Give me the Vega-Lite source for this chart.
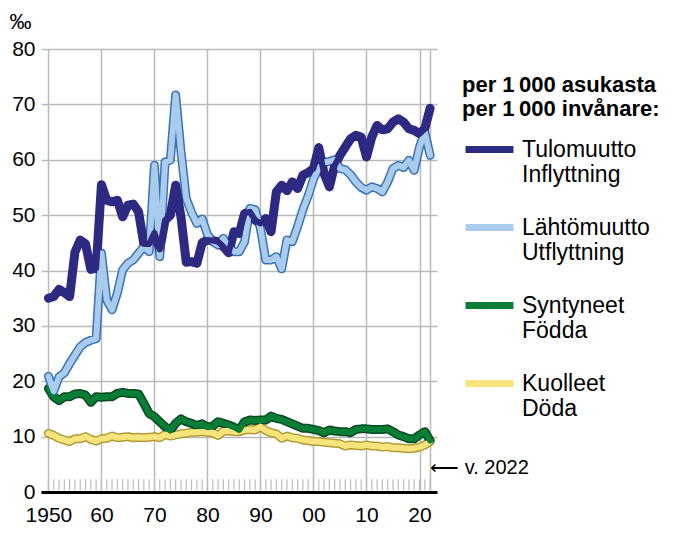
{
  "$schema": "https://vega.github.io/schema/vega-lite/v6.json",
  "autosize": {"type": "none"},
  "padding": {"left": 41, "top": 49, "right": 236, "bottom": 46},
  "width": 396,
  "height": 443,
  "background": "white",
  "config": {
    "font": "Liberation Sans",
    "view": {"stroke": null},
    "axis": {"labelColor": "black", "gridColor": "#bababa", "gridWidth": 1.5}
  },
  "data": {"values": [
    {"year":1950,"T":35.0,"L":20.9,"S":18.7,"K":10.6},
    {"year":1951,"T":35.3,"L":18.2,"S":17.2,"K":10.2},
    {"year":1952,"T":36.6,"L":20.8,"S":16.5,"K":9.7},
    {"year":1953,"T":36.0,"L":21.5,"S":17.2,"K":9.4},
    {"year":1954,"T":35.3,"L":23.2,"S":17.2,"K":9.1},
    {"year":1955,"T":43.3,"L":24.7,"S":17.7,"K":9.6},
    {"year":1956,"T":45.5,"L":26.2,"S":17.8,"K":9.6},
    {"year":1957,"T":44.8,"L":27.0,"S":17.5,"K":10.0},
    {"year":1958,"T":40.2,"L":27.4,"S":16.2,"K":9.5},
    {"year":1959,"T":40.4,"L":27.7,"S":17.2,"K":9.2},
    {"year":1960,"T":55.5,"L":43.1,"S":17.1,"K":9.6},
    {"year":1961,"T":52.7,"L":34.7,"S":17.2,"K":9.7},
    {"year":1962,"T":52.4,"L":32.9,"S":17.2,"K":10.1},
    {"year":1963,"T":52.7,"L":35.9,"S":17.8,"K":9.8},
    {"year":1964,"T":49.7,"L":40.1,"S":18.0,"K":9.9},
    {"year":1965,"T":51.8,"L":41.3,"S":17.8,"K":10.0},
    {"year":1966,"T":52.0,"L":41.9,"S":17.8,"K":9.8},
    {"year":1967,"T":50.6,"L":43.1,"S":17.7,"K":9.9},
    {"year":1968,"T":44.8,"L":44.3,"S":16.0,"K":9.8},
    {"year":1969,"T":44.8,"L":43.4,"S":14.2,"K":9.9},
    {"year":1970,"T":46.8,"L":59.0,"S":13.6,"K":10.0},
    {"year":1971,"T":43.8,"L":42.5,"S":12.7,"K":9.8},
    {"year":1972,"T":49.1,"L":59.6,"S":11.8,"K":10.4},
    {"year":1973,"T":50.0,"L":59.9,"S":11.1,"K":10.1},
    {"year":1974,"T":55.4,"L":71.7,"S":12.4,"K":10.3},
    {"year":1975,"T":49.7,"L":61.5,"S":13.2,"K":10.5},
    {"year":1976,"T":41.5,"L":53.0,"S":12.7,"K":10.6},
    {"year":1977,"T":41.6,"L":50.5,"S":12.4,"K":10.8},
    {"year":1978,"T":41.3,"L":48.5,"S":12.0,"K":10.8},
    {"year":1979,"T":45.0,"L":49.3,"S":12.3,"K":10.9},
    {"year":1980,"T":45.5,"L":46.5,"S":11.7,"K":10.8},
    {"year":1981,"T":45.4,"L":45.2,"S":11.9,"K":10.7},
    {"year":1982,"T":45.2,"L":44.6,"S":12.7,"K":10.2},
    {"year":1983,"T":44.3,"L":45.8,"S":12.4,"K":11.0},
    {"year":1984,"T":43.2,"L":44.3,"S":12.1,"K":11.0},
    {"year":1985,"T":47.0,"L":43.4,"S":11.7,"K":10.9},
    {"year":1986,"T":46.7,"L":43.4,"S":11.2,"K":10.9},
    {"year":1987,"T":50.3,"L":45.2,"S":12.7,"K":11.2},
    {"year":1988,"T":50.6,"L":51.2,"S":13.0,"K":11.3},
    {"year":1989,"T":49.1,"L":51.0,"S":12.9,"K":11.2},
    {"year":1990,"T":48.5,"L":47.6,"S":13.0,"K":11.8},
    {"year":1991,"T":49.4,"L":41.9,"S":13.0,"K":11.1},
    {"year":1992,"T":47.0,"L":41.9,"S":13.7,"K":10.7},
    {"year":1993,"T":54.2,"L":42.5,"S":13.3,"K":10.5},
    {"year":1994,"T":55.4,"L":40.3,"S":13.1,"K":9.7},
    {"year":1995,"T":54.4,"L":45.5,"S":12.7,"K":10.1},
    {"year":1996,"T":56.0,"L":45.2,"S":12.3,"K":9.8},
    {"year":1997,"T":54.8,"L":47.9,"S":11.9,"K":9.7},
    {"year":1998,"T":57.2,"L":51.0,"S":11.5,"K":9.4},
    {"year":1999,"T":57.7,"L":53.5,"S":11.5,"K":9.3},
    {"year":2000,"T":58.4,"L":56.5,"S":11.3,"K":9.1},
    {"year":2001,"T":62.2,"L":58.5,"S":11.1,"K":9.1},
    {"year":2002,"T":57.5,"L":59.5,"S":10.7,"K":9.0},
    {"year":2003,"T":55.1,"L":59.7,"S":11.2,"K":8.9},
    {"year":2004,"T":59.0,"L":60.0,"S":11.0,"K":8.8},
    {"year":2005,"T":60.8,"L":58.4,"S":10.9,"K":8.7},
    {"year":2006,"T":62.3,"L":58.2,"S":10.9,"K":8.3},
    {"year":2007,"T":63.8,"L":57.3,"S":10.7,"K":8.5},
    {"year":2008,"T":64.4,"L":56.0,"S":11.3,"K":8.4},
    {"year":2009,"T":64.1,"L":55.0,"S":11.4,"K":8.3},
    {"year":2010,"T":60.5,"L":54.5,"S":11.4,"K":8.5},
    {"year":2011,"T":64.1,"L":55.1,"S":11.3,"K":8.3},
    {"year":2012,"T":66.2,"L":54.8,"S":11.3,"K":8.3},
    {"year":2013,"T":65.4,"L":54.2,"S":11.3,"K":8.1},
    {"year":2014,"T":65.6,"L":56.0,"S":11.4,"K":8.2},
    {"year":2015,"T":66.8,"L":58.4,"S":10.9,"K":8.0},
    {"year":2016,"T":67.4,"L":59.0,"S":10.3,"K":8.0},
    {"year":2017,"T":66.8,"L":58.6,"S":10.0,"K":7.9},
    {"year":2018,"T":65.6,"L":59.9,"S":9.6,"K":7.8},
    {"year":2019,"T":65.3,"L":58.1,"S":9.6,"K":7.9},
    {"year":2020,"T":64.7,"L":62.3,"S":10.3,"K":8.1},
    {"year":2021,"T":65.6,"L":65.0,"S":10.9,"K":8.5},
    {"year":2022,"T":69.3,"L":60.8,"S":9.3,"K":9.1}
  ]},
  "layer": [
    {
      "mark": {"type": "rule", "color": "#bdbdbd", "strokeWidth": 1.2},
      "encoding": {
        "x": {
          "field": "year", "type": "quantitative",
          "scale": {"domain": [1948.6, 2023.3], "nice": false, "zero": false},
          "axis": {
            "values": [1950, 1960, 1970, 1980, 1990, 2000, 2010, 2020, 2022],
            "labelExpr": "datum.value == 1950 ? '1950' : datum.value == 2022 ? '' : substring(toString(datum.value), 2, 4)",
            "grid": true, "ticks": false,
            "domainColor": "black", "domainWidth": 3,
            "labelFontSize": 21, "labelPadding": 12, "labelFlush": false,
            "title": null
          }
        },
        "y": {
          "datum": 0.3, "type": "quantitative",
          "scale": {"domain": [0, 80], "nice": false},
          "axis": {
            "values": [0, 10, 20, 30, 40, 50, 60, 70, 80],
            "grid": true, "domain": false, "ticks": false,
            "labelFontSize": 21, "labelPadding": 6,
            "title": "‰", "titleAngle": 0, "titleX": -32, "titleY": -21,
            "titleAlign": "left", "titleBaseline": "alphabetic",
            "titleFontSize": 22, "titleFontWeight": "normal", "titleColor": "black"
          }
        },
        "y2": {"datum": 2.3}
      }
    },
    {
      "transform": [{"fold": ["K", "S", "L", "T"], "as": ["series", "value"]}],
      "mark": {"type": "line", "strokeWidth": 9, "strokeJoin": "round", "strokeCap": "round"},
      "encoding": {
        "x": {"field": "year", "type": "quantitative"},
        "y": {"field": "value", "type": "quantitative"},
        "detail": {"field": "series", "type": "nominal"},
        "color": {
          "condition": [
            {"test": "datum.series == 'K'", "value": "#b09c35"},
            {"test": "datum.series == 'S'", "value": "#0a4a20"},
            {"test": "datum.series == 'L'", "value": "#3a74b2"}
          ],
          "value": "#2e2a82"
        }
      }
    },
    {
      "transform": [{"fold": ["K", "S", "L", "T"], "as": ["series", "value"]}],
      "mark": {"type": "line", "strokeWidth": 6, "strokeJoin": "round", "strokeCap": "round"},
      "encoding": {
        "x": {"field": "year", "type": "quantitative"},
        "y": {"field": "value", "type": "quantitative"},
        "color": {
          "field": "series", "type": "nominal",
          "scale": {"domain": ["T", "L", "S", "K"], "range": ["#2e2a82", "#a8cbee", "#0a7d36", "#f8e47c"]},
          "legend": {
            "orient": "none", "legendX": 421, "legendY": 26,
            "title": ["per 1\u2009000 asukasta", "per 1\u2009000 invånare:"],
            "titleFontSize": 22, "titleFontWeight": "bold", "titleColor": "black",
            "titleLineHeight": 24, "titlePadding": 1, "titleLimit": 400,
            "labelFontSize": 23, "labelLineHeight": 27, "labelColor": "black", "labelLimit": 300,
            "labelExpr": "datum.label == 'T' ? ['Tulomuutto', 'Inflyttning'] : datum.label == 'L' ? ['Lähtömuutto', 'Utflyttning'] : datum.label == 'S' ? ['Syntyneet', 'Födda'] : ['Kuolleet', 'Döda']",
            "symbolType": "stroke", "symbolSize": 2300, "symbolStrokeWidth": 7,
            "labelOffset": 5, "rowPadding": 13
          }
        }
      }
    },
    {
      "data": {"values": [{"label": "v. 2022"}]},
      "mark": {"type": "text", "align": "left", "baseline": "middle", "fontSize": 20, "color": "black", "font": "Liberation Sans"},
      "encoding": {
        "x": {"datum": 2022, "type": "quantitative"},
        "y": {"datum": 4.3, "type": "quantitative"},
        "text": {"value": "⟵ v. 2022"}
      }
    }
  ]
}
